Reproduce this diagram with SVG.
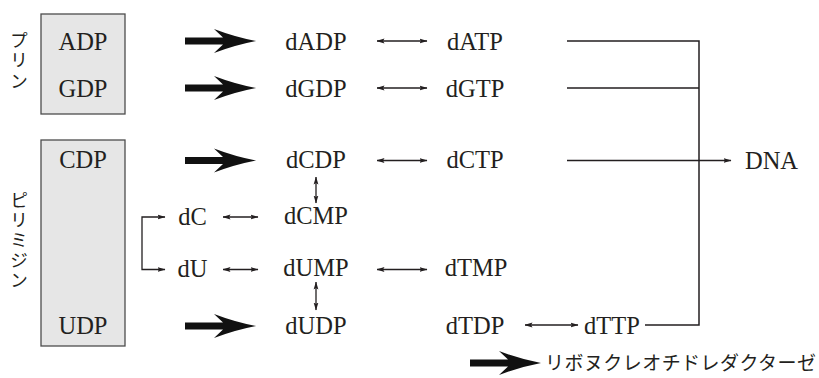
<svg xmlns="http://www.w3.org/2000/svg" width="819" height="378" viewBox="0 0 819 378">
<style>
.t{font-family:"Liberation Serif","Times New Roman",serif;font-size:24.5px;fill:#231f20;text-anchor:middle}
.j{font-family:"Noto Sans CJK JP","Noto Sans CJK SC",sans-serif;font-size:18px;fill:#231f20;writing-mode:vertical-rl}
.box{fill:#e6e6e6;stroke:#4d4d4d;stroke-width:1.3}
.ln{fill:none;stroke:#231f20;stroke-width:1.5}
.da{fill:none;stroke:#231f20;stroke-width:1.3;marker-start:url(#h);marker-end:url(#h)}
.sa{fill:none;stroke:#231f20;stroke-width:1.3;marker-end:url(#h)}
.big{fill:#111}
</style>
<defs>
<marker id="h" viewBox="0 0 8 6" refX="7.5" refY="3" markerWidth="8" markerHeight="6" markerUnits="userSpaceOnUse" orient="auto-start-reverse">
<path d="M0,0.6 L8,3 L0,5.4 L1.5,3 Z" fill="#231f20"/>
</marker>
<path id="ba" d="M0,-3.5 H38 L29,-12 Q50,-4 71,0 Q50,4 29,12 L38,3.5 H0 Z"/>
</defs>

<g id="purine">
<rect class="box" x="41" y="14" width="84" height="100"/>
<text class="j" x="19" y="31" style="letter-spacing:2.5px">プリン</text>
</g>
<g id="pyrimidine">
<rect class="box" x="41" y="140" width="84" height="206"/>
<text class="j" x="19" y="191" style="letter-spacing:2px">ピリミジン</text>
</g>
<g id="ADP"><text class="t" x="83" y="49.5">ADP</text></g>
<g id="GDP"><text class="t" x="83" y="96.5">GDP</text></g>
<g id="CDP"><text class="t" x="83" y="168">CDP</text></g>
<g id="UDP"><text class="t" x="83" y="334">UDP</text></g>
<g id="dADP"><text class="t" x="316" y="49.5">dADP</text></g>
<g id="dGDP"><text class="t" x="316" y="96.5">dGDP</text></g>
<g id="dCDP"><text class="t" x="316" y="168">dCDP</text></g>
<g id="dCMP"><text class="t" x="316" y="224">dCMP</text></g>
<g id="dUMP"><text class="t" x="316" y="276">dUMP</text></g>
<g id="dUDP"><text class="t" x="316" y="334">dUDP</text></g>
<g id="dATP"><text class="t" x="475" y="49.5">dATP</text></g>
<g id="dGTP"><text class="t" x="475" y="96.5">dGTP</text></g>
<g id="dCTP"><text class="t" x="475" y="168">dCTP</text></g>
<g id="dTMP"><text class="t" x="476" y="276">dTMP</text></g>
<g id="dTDP"><text class="t" x="475" y="334">dTDP</text></g>
<g id="dTTP"><text class="t" x="612" y="334">dTTP</text></g>
<g id="dC"><text class="t" x="192.5" y="225">dC</text></g>
<g id="dU"><text class="t" x="192.5" y="277">dU</text></g>
<g id="DNA"><text class="t" x="771.5" y="169">DNA</text></g>

<g id="connectors">
<use href="#ba" class="big" x="185" y="41"/>
<use href="#ba" class="big" x="185" y="88"/>
<use href="#ba" class="big" x="185" y="160.5"/>
<use href="#ba" class="big" x="185" y="326"/>
<path class="da" d="M377,41 H427"/>
<path class="da" d="M377,88 H427"/>
<path class="da" d="M377,160.5 H427"/>
<path class="da" d="M377,269.5 H427"/>
<path class="da" d="M223,217 H258"/>
<path class="da" d="M223,269.5 H258"/>
<path class="da" d="M316,177 V203"/>
<path class="da" d="M316,282 V310"/>
<path class="da" d="M525,325 H578"/>
<path class="da" d="M165,217 H142 V269.5 H165"/>
<path class="ln" d="M567,41 H699 M567,88 H699 M645,325 H699 M699,40.3 V325.7"/>
<path class="sa" d="M567,160.5 H731"/>
</g>

<g id="legend">
<use href="#ba" class="big" x="470" y="363"/>
<text x="545" y="370" textLength="271" style="font-family:'Noto Sans CJK JP','Noto Sans CJK SC',sans-serif;font-size:19px;fill:#231f20">リボヌクレオチドレダクターゼ</text>
</g>
</svg>
